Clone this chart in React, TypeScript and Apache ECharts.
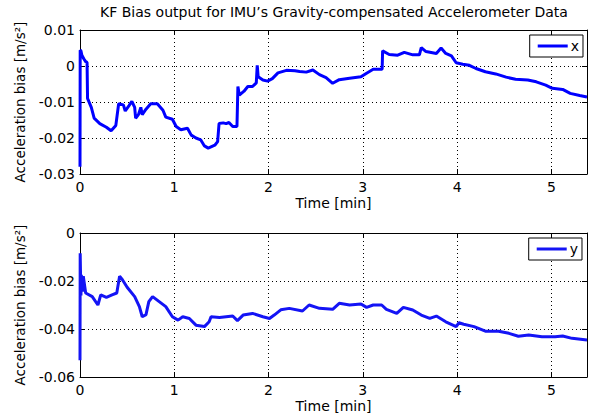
import React, { useEffect, useRef } from "react";
import * as echarts from "echarts";

const titleText = "KF Bias output for IMU’s Gravity-compensated Accelerometer Data";
const xAxisName = "Time [min]";
const yAxisName = "Acceleration bias [m/s²]";
const xTicks = [0, 1, 2, 3, 4, 5];

const timeX = [0, 0.002, 0.01, 0.02, 0.04, 0.06, 0.075, 0.08, 0.12, 0.15, 0.21, 0.28, 0.33, 0.38, 0.41, 0.46, 0.48, 0.52, 0.55, 0.58, 0.59, 0.62, 0.645, 0.66, 0.7, 0.75, 0.82, 0.88, 0.91, 0.98, 1.02, 1.07, 1.14, 1.18, 1.23, 1.28, 1.32, 1.36, 1.43, 1.46, 1.475, 1.52, 1.55, 1.58, 1.62, 1.665, 1.675, 1.69, 1.74, 1.78, 1.83, 1.87, 1.88, 1.89, 1.94, 1.99, 2.04, 2.1, 2.19, 2.28, 2.33, 2.4, 2.47, 2.54, 2.61, 2.68, 2.75, 2.86, 2.98, 3.04, 3.11, 3.205, 3.21, 3.28, 3.37, 3.44, 3.53, 3.6, 3.62, 3.67, 3.78, 3.83, 3.88, 3.94, 3.99, 4.06, 4.13, 4.2, 4.3, 4.41, 4.52, 4.62, 4.75, 4.84, 4.94, 5.01, 5.12, 5.2, 5.3, 5.378];
const biasX = [-0.028, 0.0044, 0.0042, 0.003, 0.002, 0.0012, 0.001, -0.009, -0.0115, -0.0145, -0.016, -0.017, -0.018, -0.0165, -0.0105, -0.0108, -0.0125, -0.011, -0.0098, -0.0115, -0.0145, -0.0135, -0.0115, -0.0135, -0.012, -0.0105, -0.0105, -0.0123, -0.0142, -0.0148, -0.0168, -0.0177, -0.0173, -0.0192, -0.02, -0.0205, -0.0222, -0.0228, -0.022, -0.021, -0.016, -0.0158, -0.016, -0.0157, -0.0168, -0.0168, -0.0057, -0.0081, -0.007, -0.0057, -0.0057, -0.0047, 0.0002, -0.003, -0.0039, -0.0042, -0.0035, -0.0019, -0.0012, -0.0013, -0.0015, -0.0017, -0.0011, -0.0024, -0.0032, -0.0048, -0.0038, -0.0034, -0.003, -0.002, -0.0009, -0.0009, 0.0042, 0.0032, 0.003, 0.0038, 0.0031, 0.0031, 0.0051, 0.004, 0.0035, 0.005, 0.0035, 0.0028, 0.0009, 0.0005, 0.0002, -0.0007, -0.0016, -0.0022, -0.0031, -0.0037, -0.0039, -0.0044, -0.0053, -0.0062, -0.0065, -0.0076, -0.0082, -0.0086];

const timeY = [0, 0.002, 0.006, 0.01, 0.014, 0.025, 0.035, 0.06, 0.13, 0.19, 0.22, 0.28, 0.34, 0.39, 0.42, 0.45, 0.5, 0.58, 0.63, 0.66, 0.7, 0.73, 0.77, 0.84, 0.91, 0.98, 1.04, 1.09, 1.16, 1.23, 1.32, 1.37, 1.39, 1.48, 1.55, 1.62, 1.67, 1.73, 1.83, 1.94, 2.01, 2.06, 2.13, 2.22, 2.36, 2.43, 2.54, 2.68, 2.75, 2.86, 2.98, 3.04, 3.11, 3.2, 3.25, 3.36, 3.43, 3.53, 3.62, 3.71, 3.78, 3.88, 3.99, 4.02, 4.07, 4.18, 4.3, 4.44, 4.55, 4.65, 4.76, 4.9, 5.04, 5.12, 5.22, 5.378];
const biasY = [-0.053, -0.0084, -0.018, -0.026, -0.0174, -0.0244, -0.018, -0.025, -0.0265, -0.03, -0.0258, -0.0268, -0.0258, -0.025, -0.018, -0.0195, -0.0226, -0.0265, -0.0307, -0.0349, -0.034, -0.0286, -0.0265, -0.0286, -0.0307, -0.0349, -0.0363, -0.0349, -0.0356, -0.0384, -0.039, -0.037, -0.0349, -0.0352, -0.0349, -0.0346, -0.0365, -0.0342, -0.0335, -0.0349, -0.0356, -0.0342, -0.032, -0.0314, -0.0325, -0.03, -0.0314, -0.0318, -0.0293, -0.03, -0.0296, -0.031, -0.03, -0.03, -0.0318, -0.0335, -0.031, -0.0321, -0.0342, -0.0356, -0.0346, -0.037, -0.039, -0.0374, -0.038, -0.039, -0.0409, -0.0409, -0.0418, -0.043, -0.0425, -0.0432, -0.0432, -0.0429, -0.0439, -0.0446];

const FONT = "'DejaVu Sans', 'Liberation Sans', Arial, sans-serif";

export default function App() {
  const ref = useRef<HTMLDivElement>(null);
  useEffect(() => {
    document.body.style.margin = "0";
    if (!ref.current) return;
    const chart = echarts.init(ref.current, undefined, { renderer: "svg" });
    const xMax = timeX[timeX.length - 1];
    const fmtY = (v: number) => (Math.abs(v) < 1e-9 ? "0" : v.toFixed(2));
    const fmtX = (v: number) => (xTicks.some((t) => Math.abs(t - v) < 1e-6) ? String(Math.round(v)) : "");
    const grids = [
      { left: 80, top: 30, width: 507, height: 144 },
      { left: 80, top: 233, width: 507, height: 144 },
    ];
    const mkX = (gi: number, pos: "bottom" | "top") => ({
      type: "value",
      gridIndex: gi,
      position: pos,
      min: 0,
      max: xMax,
      interval: 1,
      name: pos === "bottom" ? xAxisName : "",
      nameLocation: "middle",
      nameGap: 22,
      nameTextStyle: { color: "#000", fontSize: 14, fontFamily: FONT },
      axisLine: { show: true, onZero: false, lineStyle: { color: "#000", width: 1 } },
      axisTick: { show: true, inside: true, length: 5, lineStyle: { color: "#000" } },
      axisLabel: { show: pos === "bottom", color: "#000", fontSize: 14, fontFamily: FONT, margin: 6, formatter: fmtX, showMaxLabel: false },
      splitLine: { show: pos === "bottom", lineStyle: { color: "#000", type: [1, 3], width: 1 } },
    });
    const mkY = (gi: number, pos: "left" | "right", min: number, max: number) => ({
      type: "value",
      gridIndex: gi,
      position: pos,
      min,
      max,
      interval: 0.01 * (gi === 0 ? 1 : 2),
      name: pos === "left" ? yAxisName : "",
      nameLocation: "middle",
      nameGap: 53,
      nameTextStyle: { color: "#000", fontSize: 13.5, fontFamily: FONT },
      axisLine: { show: true, onZero: false, lineStyle: { color: "#000", width: 1 } },
      axisTick: { show: true, inside: true, length: 5, lineStyle: { color: "#000" } },
      axisLabel: { show: pos === "left", color: "#000", fontSize: 14, fontFamily: FONT, margin: 5, formatter: fmtY },
      splitLine: { show: pos === "left", lineStyle: { color: "#000", type: [1, 3], width: 1 } },
    });
    const legendBase = {
      orient: "vertical",
      backgroundColor: "#fff",
      borderColor: "#000",
      borderWidth: 1,
      borderRadius: 0,
      padding: [4, 4, 4, 8],
      itemWidth: 30,
      itemHeight: 3,
      itemGap: 2,
      icon: "rect",
      textStyle: { color: "#000", fontSize: 14, fontFamily: FONT, padding: [0, 0, 0, -2] },
    };
    chart.setOption({
      animation: false,
      backgroundColor: "#fff",
      graphic: [
        {
          type: "text",
          x: 334,
          y: 5,
          style: { text: titleText, textAlign: "center", textVerticalAlign: "top", fill: "#000", font: `14px ${FONT}` },
        },
      ],
      grid: grids,
      xAxis: [mkX(0, "bottom"), mkX(0, "top"), mkX(1, "bottom"), mkX(1, "top")],
      yAxis: [mkY(0, "left", -0.03, 0.01), mkY(0, "right", -0.03, 0.01), mkY(1, "left", -0.06, 0), mkY(1, "right", -0.06, 0)],
      legend: [
        { ...legendBase, data: ["x"], right: 6, top: 35 },
        { ...legendBase, data: ["y"], right: 7, top: 238 },
      ],
      series: [
        {
          name: "x",
          type: "line",
          xAxisIndex: 0,
          yAxisIndex: 0,
          showSymbol: false,
          symbol: "none",
          color: "#0000ff",
          lineStyle: { color: "#0000ff", width: 3 },
          data: timeX.map((t, i) => [t, biasX[i]]),
        },
        {
          name: "y",
          type: "line",
          xAxisIndex: 2,
          yAxisIndex: 2,
          showSymbol: false,
          symbol: "none",
          color: "#1414f5",
          lineStyle: { color: "#1414f5", width: 3 },
          data: timeY.map((t, i) => [t, biasY[i]]),
        },
      ],
    });
    return () => chart.dispose();
  }, []);
  return <div ref={ref} style={{ width: 589, height: 417 }} />;
}
